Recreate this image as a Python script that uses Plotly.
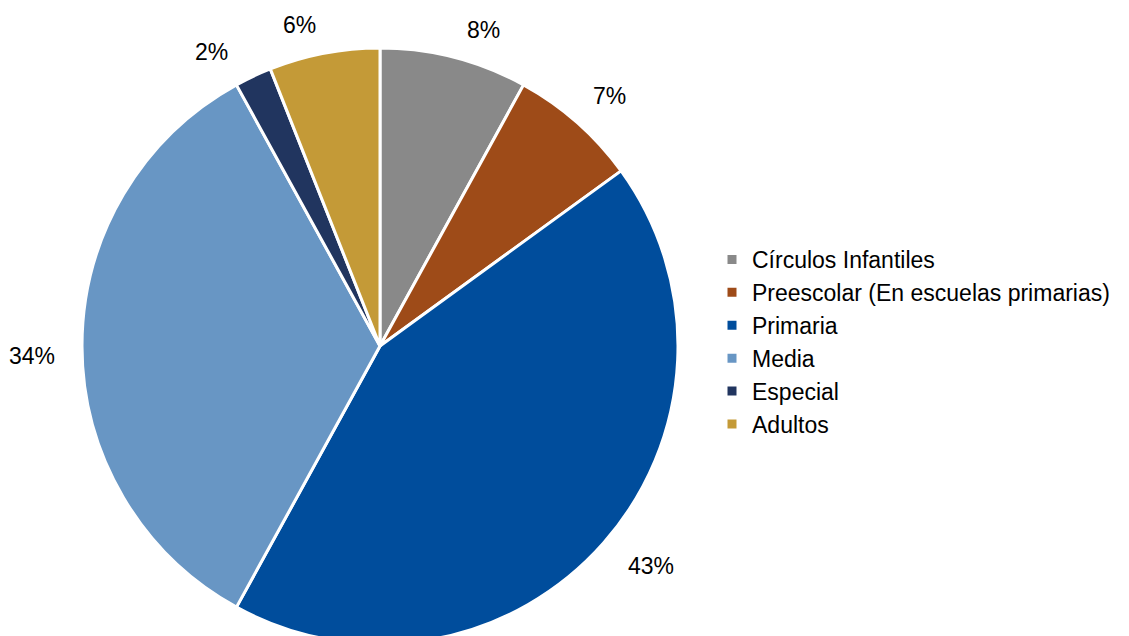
import math
import plotly.graph_objects as go

categories = ["Círculos Infantiles", "Preescolar (En escuelas primarias)", "Primaria",
              "Media", "Especial", "Adultos"]
values = [8, 7, 43, 34, 2, 6]
labels_text = ["8%", "7%", "43%", "34%", "2%", "6%"]
colors = ["#898989", "#9E4B18", "#004D9C", "#6896C4", "#21355F", "#C49A37"]

# small pixel nudges for the percentage labels (Excel "best fit" look)
label_nudges = [(19, 14), (0, 10), (10, -10), (-2, 10), (-22, 17), (-17, 12)]

W, H = 1129, 636
top = 40
R = (H - top) / 2.0
cx = 372.0
cy = top + R

fig = go.Figure()
fig.add_trace(go.Pie(
    labels=categories,
    values=values,
    sort=False,
    direction="clockwise",
    rotation=0,
    marker=dict(colors=colors, line=dict(color="#FFFFFF", width=3)),
    textinfo="none",
    hoverinfo="label+percent",
    domain=dict(x=[(cx - R) / W, (cx + R) / W], y=[0, (H - top) / H]),
))

total = float(sum(values))
cum = 0.0
annotations = []
for v, t, (nx, ny) in zip(values, labels_text, label_nudges):
    theta = 2 * math.pi * (cum + v / 2.0) / total
    cum += v
    dist = R + 25 + 23 * abs(math.sin(theta)) + 12 * abs(math.cos(theta))
    px = cx + dist * math.sin(theta) + nx
    py = cy - dist * math.cos(theta) + ny
    annotations.append(dict(
        x=px / W, y=1 - py / H, xref="paper", yref="paper",
        text=t, showarrow=False, xanchor="center", yanchor="middle",
        font=dict(family="Liberation Sans, Arial, sans-serif", size=23, color="#000000"),
    ))

fig.update_layout(
    width=W, height=H,
    margin=dict(l=0, r=0, t=0, b=0),
    paper_bgcolor="#FFFFFF",
    plot_bgcolor="#FFFFFF",
    showlegend=True,
    legend=dict(
        x=704 / W, xanchor="left",
        y=1 - 334 / H, yanchor="middle",
        font=dict(family="Liberation Sans, Arial, sans-serif", size=23, color="#000000"),
        bgcolor="rgba(0,0,0,0)",
    ),
    annotations=annotations,
)

fig.write_html("out.html")
